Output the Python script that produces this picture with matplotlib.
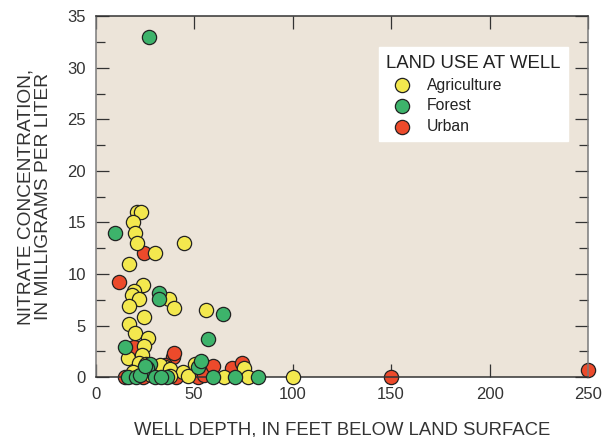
import matplotlib
matplotlib.use("Agg")
import matplotlib.pyplot as plt
from matplotlib.ticker import MultipleLocator

plt.rcParams['font.family'] = ['Liberation Sans', 'DejaVu Sans']

# Well depth (ft) and nitrate concentration (mg/L) by land use
agri_depth = [21, 23, 19, 20, 21, 45, 30, 17, 24, 19.7, 18.7, 22, 37.3, 17, 39.8,
              56, 24.7, 17, 20, 26.8, 24.8, 16.3, 23.4, 22, 25.5, 35.3, 32.7,
              37.8, 44.6, 50.5, 75.3, 65, 77.6, 100, 21, 28, 38, 47, 19]
agri_nitrate = [16, 16, 15, 14, 13, 13, 12, 11, 8.9, 8.4, 8.0, 7.6, 7.6, 6.9, 6.7,
                6.5, 5.85, 5.2, 4.3, 3.8, 3.0, 1.85, 2.15, 1.4, 1.3, 1.0, 1.16,
                0.75, 0.5, 1.3, 0.9, 0, 0, 0, 0.3, 0.2, 0.1, 0.1, 0.5]

forest_depth = [27, 10, 32.4, 32, 64.5, 57, 15, 27.7, 26, 52.2, 53.5, 16.6, 20.5,
                22.6, 30.2, 36, 59.5, 70.8, 82.6, 25, 33]
forest_nitrate = [33, 14, 8.2, 7.6, 6.1, 3.7, 2.9, 1.3, 0.9, 1.0, 1.6, 0, 0,
                  0.2, 0, 0, 0, 0, 0, 1.1, 0]

urban_depth = [12, 24.6, 19.5, 39.5, 40, 15, 28.5, 41, 35.3, 52, 55, 59.8, 69.2,
               74.2, 150, 250, 18, 24]
urban_nitrate = [9.25, 12, 2.95, 2.0, 2.3, 0, 0.5, 0, 1.2, 0, 0.2, 1.1, 0.85,
                 1.35, 0, 0.7, 0.1, 0]

fig = plt.figure(figsize=(6.05, 4.37), dpi=100)
ax = fig.add_axes([0.158, 0.137, 0.814, 0.826])
ax.set_facecolor('#ECE4D9')

mk = dict(s=105, edgecolors='#222222', linewidths=0.9, clip_on=False)
ax.scatter(agri_depth, agri_nitrate, c='#F3E84E', label='Agriculture', zorder=3, **mk)
ax.scatter(forest_depth, forest_nitrate, c='#3DB36B', label='Forest', zorder=4, **mk)
ax.scatter(urban_depth, urban_nitrate, c='#EC4A2B', label='Urban', zorder=2, **mk)

ax.set_xlim(0, 250)
ax.set_ylim(0, 35)
ax.xaxis.set_major_locator(MultipleLocator(50))
ax.yaxis.set_major_locator(MultipleLocator(5))
ax.yaxis.set_minor_locator(MultipleLocator(2.5))

ax.tick_params(which='both', direction='in', top=True, right=True,
               colors='#333333', labelsize=12, width=0.9)
ax.tick_params(which='major', length=9.5, pad=7)
ax.tick_params(which='minor', length=6.5)
for side in ('left', 'right'):
    ax.spines[side].set_color('#7a7a7a')
for side in ('top', 'bottom'):
    ax.spines[side].set_color('#333333')
for sp in ax.spines.values():
    sp.set_linewidth(1.1)

ax.set_xlabel('WELL DEPTH, IN FEET BELOW LAND SURFACE', fontsize=13.3,
              color='#333333', labelpad=14)
ax.set_ylabel('NITRATE CONCENTRATION,\nIN MILLIGRAMS PER LITER', fontsize=13.8,
              color='#333333', labelpad=11, linespacing=1.0)

leg = ax.legend(title='LAND USE AT WELL', loc='upper right',
                bbox_to_anchor=(0.975, 0.935), frameon=True, fancybox=False,
                fontsize=11.3, title_fontsize=13.4, handletextpad=0.55,
                borderpad=0.45, labelspacing=0.38, markerscale=1.0)
leg.get_frame().set_facecolor('white')
leg.get_frame().set_edgecolor('white')
leg.get_frame().set_alpha(1)
leg._legend_box.align = 'left'
for t in leg.get_texts():
    t.set_color('#222222')
leg.get_title().set_color('#222222')

fig.savefig('out.png', dpi=100)
